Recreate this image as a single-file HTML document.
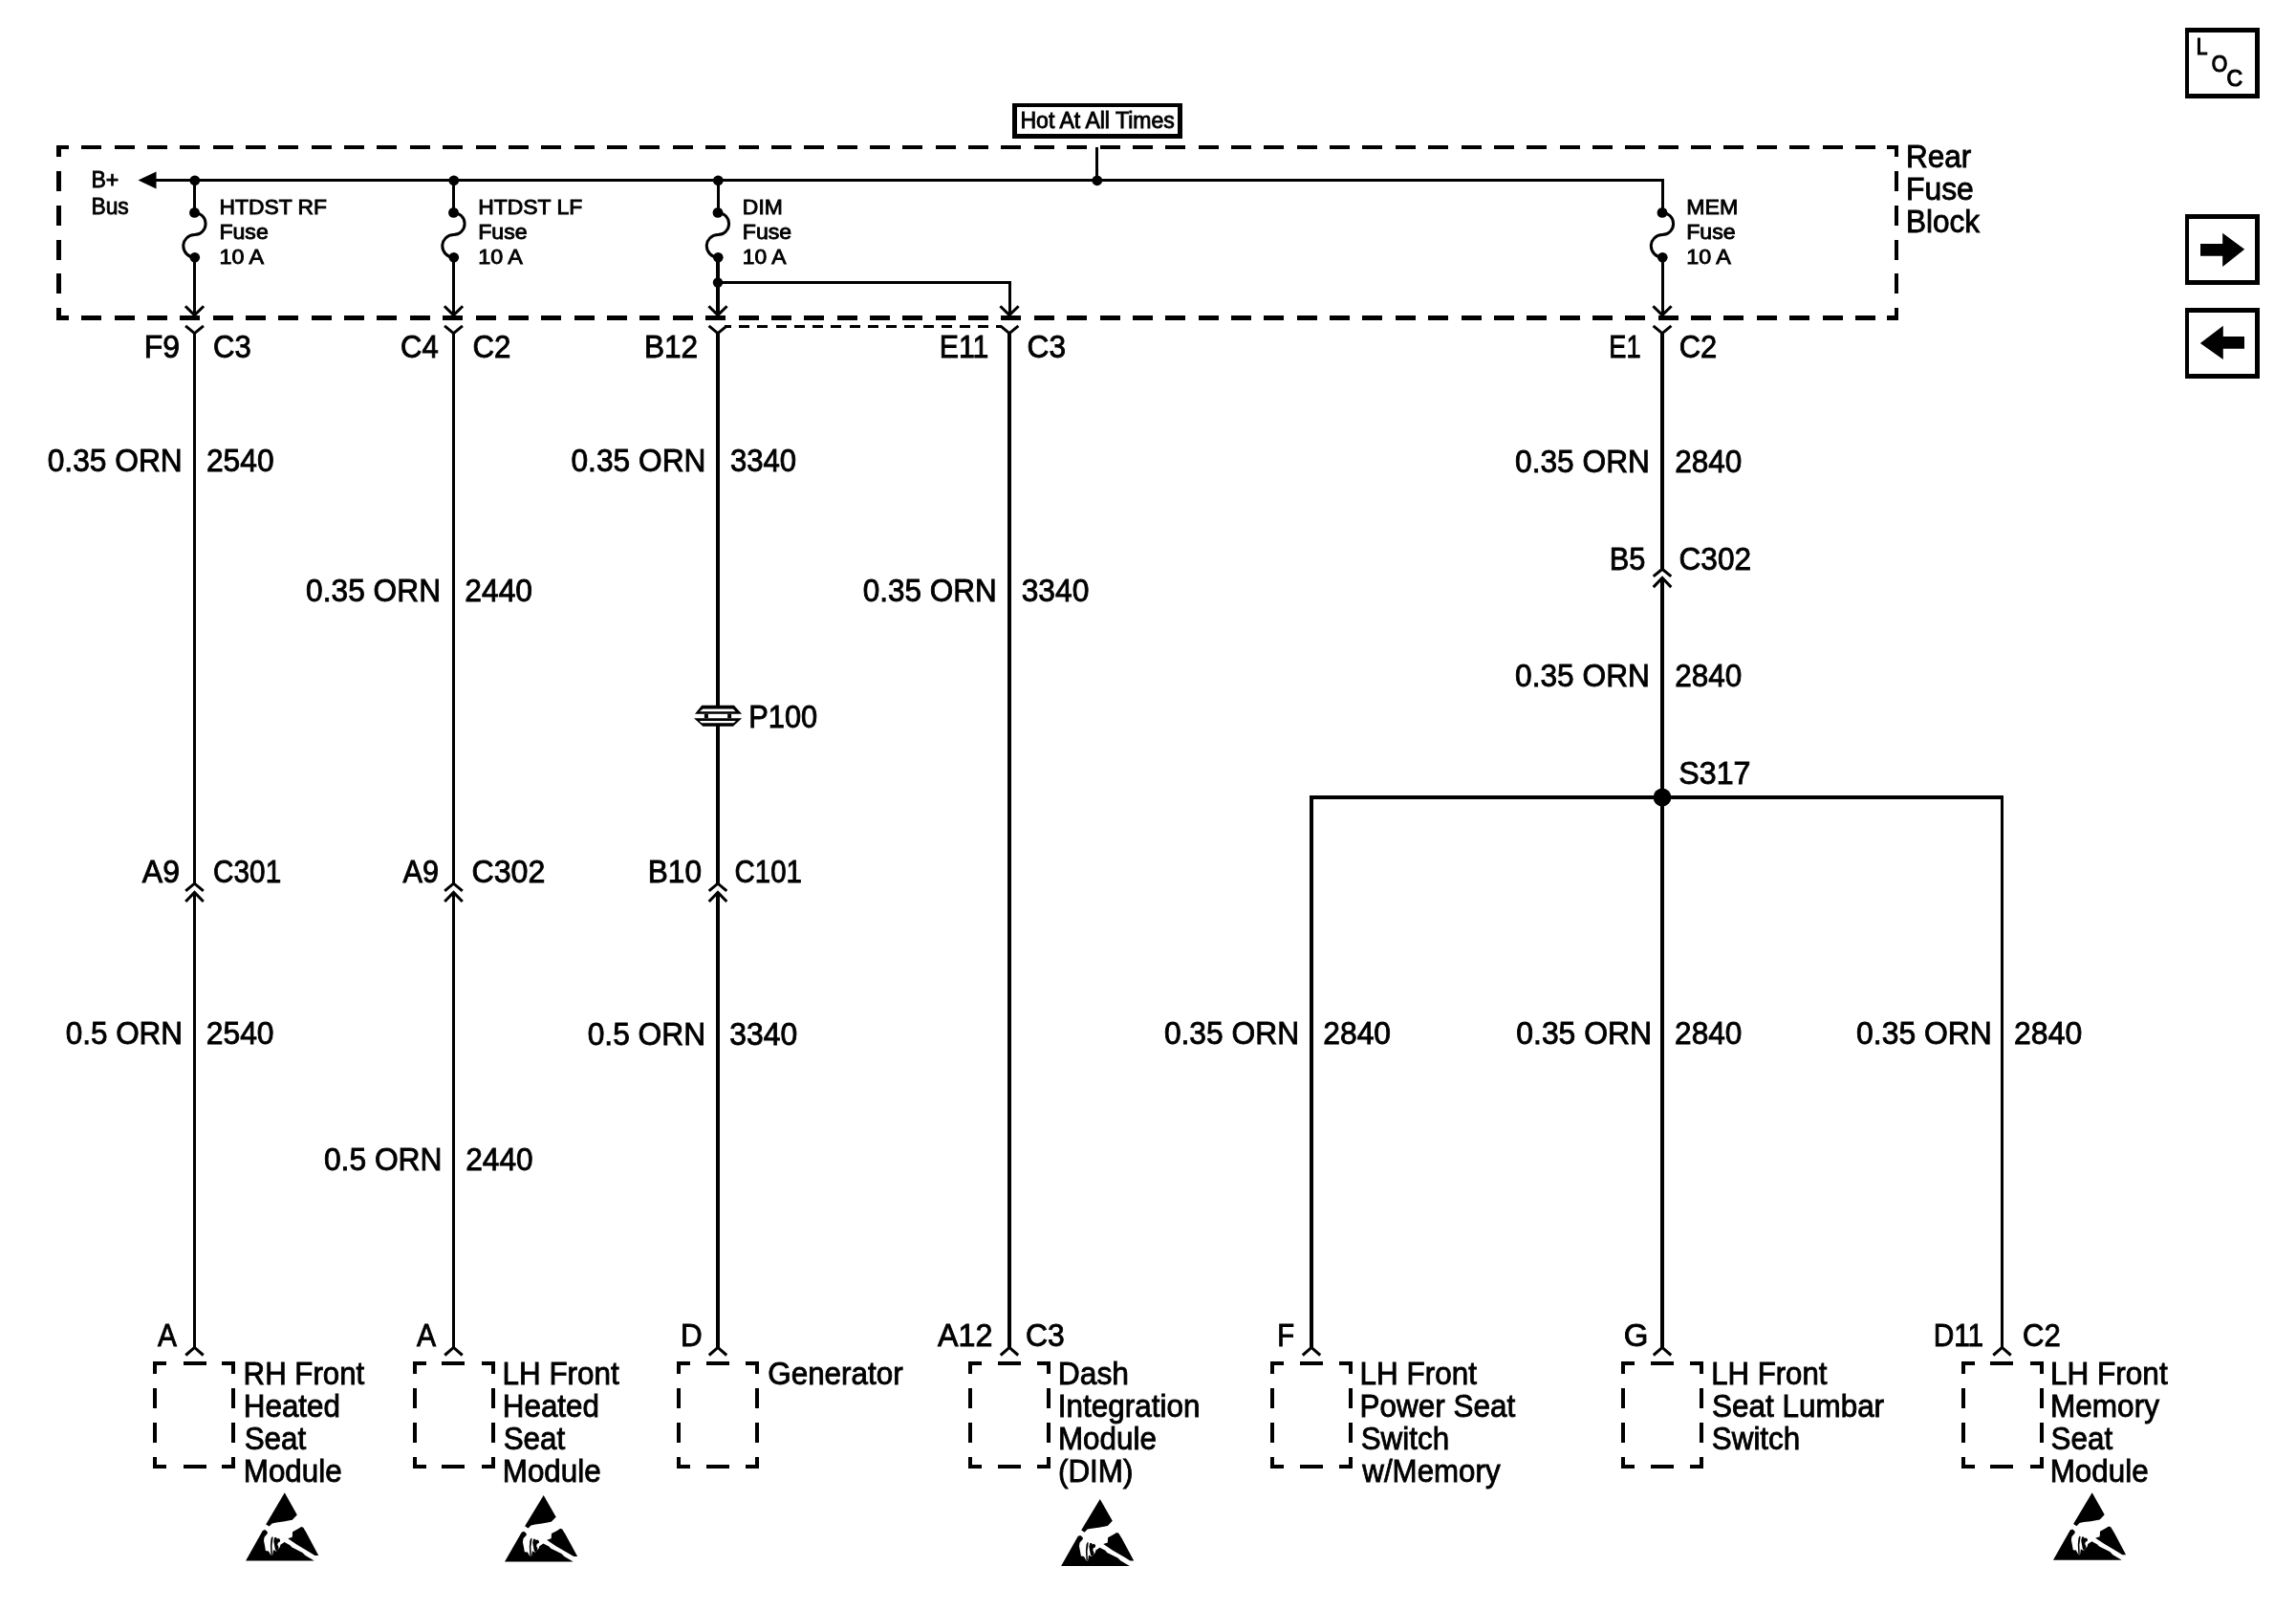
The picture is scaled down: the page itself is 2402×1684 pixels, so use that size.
<!DOCTYPE html>
<html><head><meta charset="utf-8"><style>
html,body{margin:0;padding:0;background:#fff;}
svg{display:block;filter:grayscale(1);}
text{font-family:"Liberation Sans",sans-serif;fill:#000;}
</style></head><body>
<svg width="2402" height="1684" viewBox="0 0 2402 1684">
<rect width="2402" height="1684" fill="#fff"/>
<g fill="#000" stroke="none" shape-rendering="crispEdges">
<rect x="59" y="152" width="13" height="4"/>
<rect x="85" y="152" width="21" height="4"/>
<rect x="120" y="152" width="21" height="4"/>
<rect x="154" y="152" width="21" height="4"/>
<rect x="188" y="152" width="21" height="4"/>
<rect x="223" y="152" width="21" height="4"/>
<rect x="257" y="152" width="21" height="4"/>
<rect x="291" y="152" width="21" height="4"/>
<rect x="326" y="152" width="21" height="4"/>
<rect x="360" y="152" width="21" height="4"/>
<rect x="394" y="152" width="21" height="4"/>
<rect x="429" y="152" width="21" height="4"/>
<rect x="463" y="152" width="21" height="4"/>
<rect x="498" y="152" width="21" height="4"/>
<rect x="532" y="152" width="21" height="4"/>
<rect x="566" y="152" width="21" height="4"/>
<rect x="601" y="152" width="21" height="4"/>
<rect x="635" y="152" width="21" height="4"/>
<rect x="669" y="152" width="21" height="4"/>
<rect x="704" y="152" width="21" height="4"/>
<rect x="738" y="152" width="21" height="4"/>
<rect x="773" y="152" width="21" height="4"/>
<rect x="807" y="152" width="21" height="4"/>
<rect x="841" y="152" width="21" height="4"/>
<rect x="876" y="152" width="21" height="4"/>
<rect x="910" y="152" width="21" height="4"/>
<rect x="944" y="152" width="21" height="4"/>
<rect x="979" y="152" width="21" height="4"/>
<rect x="1013" y="152" width="21" height="4"/>
<rect x="1047" y="152" width="21" height="4"/>
<rect x="1082" y="152" width="21" height="4"/>
<rect x="1116" y="152" width="21" height="4"/>
<rect x="1151" y="152" width="21" height="4"/>
<rect x="1185" y="152" width="21" height="4"/>
<rect x="1219" y="152" width="21" height="4"/>
<rect x="1254" y="152" width="21" height="4"/>
<rect x="1288" y="152" width="21" height="4"/>
<rect x="1322" y="152" width="21" height="4"/>
<rect x="1357" y="152" width="21" height="4"/>
<rect x="1391" y="152" width="21" height="4"/>
<rect x="1425" y="152" width="21" height="4"/>
<rect x="1460" y="152" width="21" height="4"/>
<rect x="1494" y="152" width="21" height="4"/>
<rect x="1529" y="152" width="21" height="4"/>
<rect x="1563" y="152" width="21" height="4"/>
<rect x="1597" y="152" width="21" height="4"/>
<rect x="1632" y="152" width="21" height="4"/>
<rect x="1666" y="152" width="21" height="4"/>
<rect x="1700" y="152" width="21" height="4"/>
<rect x="1735" y="152" width="21" height="4"/>
<rect x="1769" y="152" width="21" height="4"/>
<rect x="1803" y="152" width="21" height="4"/>
<rect x="1838" y="152" width="21" height="4"/>
<rect x="1872" y="152" width="21" height="4"/>
<rect x="1907" y="152" width="21" height="4"/>
<rect x="1941" y="152" width="21" height="4"/>
<rect x="1974" y="152" width="12" height="4"/>
<rect x="59" y="330" width="13" height="5"/>
<rect x="85" y="330" width="21" height="5"/>
<rect x="120" y="330" width="21" height="5"/>
<rect x="154" y="330" width="21" height="5"/>
<rect x="188" y="330" width="21" height="5"/>
<rect x="223" y="330" width="21" height="5"/>
<rect x="257" y="330" width="21" height="5"/>
<rect x="291" y="330" width="21" height="5"/>
<rect x="326" y="330" width="21" height="5"/>
<rect x="360" y="330" width="21" height="5"/>
<rect x="394" y="330" width="21" height="5"/>
<rect x="429" y="330" width="21" height="5"/>
<rect x="463" y="330" width="21" height="5"/>
<rect x="498" y="330" width="21" height="5"/>
<rect x="532" y="330" width="21" height="5"/>
<rect x="566" y="330" width="21" height="5"/>
<rect x="601" y="330" width="21" height="5"/>
<rect x="635" y="330" width="21" height="5"/>
<rect x="669" y="330" width="21" height="5"/>
<rect x="704" y="330" width="21" height="5"/>
<rect x="738" y="330" width="21" height="5"/>
<rect x="773" y="330" width="21" height="5"/>
<rect x="807" y="330" width="21" height="5"/>
<rect x="841" y="330" width="21" height="5"/>
<rect x="876" y="330" width="21" height="5"/>
<rect x="910" y="330" width="21" height="5"/>
<rect x="944" y="330" width="21" height="5"/>
<rect x="979" y="330" width="21" height="5"/>
<rect x="1013" y="330" width="21" height="5"/>
<rect x="1047" y="330" width="21" height="5"/>
<rect x="1082" y="330" width="21" height="5"/>
<rect x="1116" y="330" width="21" height="5"/>
<rect x="1151" y="330" width="21" height="5"/>
<rect x="1185" y="330" width="21" height="5"/>
<rect x="1219" y="330" width="21" height="5"/>
<rect x="1254" y="330" width="21" height="5"/>
<rect x="1288" y="330" width="21" height="5"/>
<rect x="1322" y="330" width="21" height="5"/>
<rect x="1357" y="330" width="21" height="5"/>
<rect x="1391" y="330" width="21" height="5"/>
<rect x="1425" y="330" width="21" height="5"/>
<rect x="1460" y="330" width="21" height="5"/>
<rect x="1494" y="330" width="21" height="5"/>
<rect x="1529" y="330" width="21" height="5"/>
<rect x="1563" y="330" width="21" height="5"/>
<rect x="1597" y="330" width="21" height="5"/>
<rect x="1632" y="330" width="21" height="5"/>
<rect x="1666" y="330" width="21" height="5"/>
<rect x="1700" y="330" width="21" height="5"/>
<rect x="1735" y="330" width="21" height="5"/>
<rect x="1769" y="330" width="21" height="5"/>
<rect x="1803" y="330" width="21" height="5"/>
<rect x="1838" y="330" width="21" height="5"/>
<rect x="1872" y="330" width="21" height="5"/>
<rect x="1907" y="330" width="21" height="5"/>
<rect x="1941" y="330" width="21" height="5"/>
<rect x="1974" y="330" width="12" height="5"/>
<rect x="59" y="152" width="5" height="12"/>
<rect x="59" y="179" width="5" height="21"/>
<rect x="59" y="215" width="5" height="21"/>
<rect x="59" y="251" width="5" height="21"/>
<rect x="59" y="286" width="5" height="21"/>
<rect x="59" y="322" width="5" height="13"/>
<rect x="1982" y="152" width="4" height="12"/>
<rect x="1982" y="179" width="4" height="21"/>
<rect x="1982" y="215" width="4" height="21"/>
<rect x="1982" y="251" width="4" height="21"/>
<rect x="1982" y="286" width="4" height="21"/>
<rect x="1982" y="322" width="4" height="13"/>
<rect x="160" y="187" width="1581" height="3"/>
<rect x="1146" y="154" width="3" height="35"/>
<rect x="1059" y="108" width="178" height="4"/>
<rect x="1059" y="140" width="178" height="5"/>
<rect x="1059" y="108" width="5" height="37"/>
<rect x="1232" y="108" width="5" height="37"/>
<rect x="202" y="188" width="3" height="34"/>
<rect x="202" y="269" width="3" height="60"/>
<rect x="473" y="188" width="3" height="34"/>
<rect x="473" y="269" width="3" height="60"/>
<rect x="749.5" y="188" width="3" height="34"/>
<rect x="749" y="269" width="4" height="60"/>
<rect x="1737.5" y="187" width="3" height="35"/>
<rect x="1737.5" y="188" width="3" height="34"/>
<rect x="1737.5" y="269" width="3" height="60"/>
<rect x="751" y="294" width="307" height="3"/>
<rect x="1054.5" y="294" width="3" height="35"/>
<rect x="773" y="340" width="11" height="3"/>
<rect x="792" y="340" width="11" height="3"/>
<rect x="812" y="340" width="11" height="3"/>
<rect x="831" y="340" width="11" height="3"/>
<rect x="850" y="340" width="11" height="3"/>
<rect x="869" y="340" width="11" height="3"/>
<rect x="889" y="340" width="11" height="3"/>
<rect x="908" y="340" width="11" height="3"/>
<rect x="927" y="340" width="11" height="3"/>
<rect x="946" y="340" width="11" height="3"/>
<rect x="966" y="340" width="11" height="3"/>
<rect x="985" y="340" width="11" height="3"/>
<rect x="1004" y="340" width="11" height="3"/>
<rect x="1023" y="340" width="11" height="3"/>
<rect x="758" y="340" width="7" height="3"/>
<rect x="1042" y="340" width="5" height="3"/>
<rect x="202" y="348" width="3" height="577"/>
<rect x="202" y="933" width="3" height="477"/>
<rect x="473" y="348" width="3" height="577"/>
<rect x="473" y="933" width="3" height="477"/>
<rect x="749" y="348" width="4" height="390"/>
<rect x="749" y="759" width="4" height="166"/>
<rect x="749" y="933" width="4" height="477"/>
<rect x="1054" y="348" width="4" height="1062"/>
<rect x="1737" y="348" width="4" height="248"/>
<rect x="1737" y="604" width="4" height="806"/>
<rect x="1370" y="832" width="726" height="4"/>
<rect x="1370" y="832" width="4" height="578"/>
<rect x="2093" y="832" width="3" height="578"/>
<rect x="160" y="1424" width="14" height="4"/>
<rect x="192" y="1424" width="24" height="4"/>
<rect x="232" y="1424" width="14" height="4"/>
<rect x="160" y="1532" width="14" height="4"/>
<rect x="192" y="1532" width="24" height="4"/>
<rect x="232" y="1532" width="14" height="4"/>
<rect x="160" y="1424" width="4" height="13"/>
<rect x="160" y="1452" width="4" height="21"/>
<rect x="160" y="1488" width="4" height="21"/>
<rect x="160" y="1524" width="4" height="12"/>
<rect x="242" y="1424" width="4" height="13"/>
<rect x="242" y="1452" width="4" height="21"/>
<rect x="242" y="1488" width="4" height="21"/>
<rect x="242" y="1524" width="4" height="12"/>
<rect x="432" y="1424" width="14" height="4"/>
<rect x="462" y="1424" width="24" height="4"/>
<rect x="504" y="1424" width="14" height="4"/>
<rect x="432" y="1532" width="14" height="4"/>
<rect x="462" y="1532" width="24" height="4"/>
<rect x="504" y="1532" width="14" height="4"/>
<rect x="432" y="1424" width="4" height="13"/>
<rect x="432" y="1452" width="4" height="21"/>
<rect x="432" y="1488" width="4" height="21"/>
<rect x="432" y="1524" width="4" height="12"/>
<rect x="514" y="1424" width="4" height="13"/>
<rect x="514" y="1452" width="4" height="21"/>
<rect x="514" y="1488" width="4" height="21"/>
<rect x="514" y="1524" width="4" height="12"/>
<rect x="708" y="1424" width="14" height="4"/>
<rect x="739" y="1424" width="24" height="4"/>
<rect x="780" y="1424" width="14" height="4"/>
<rect x="708" y="1532" width="14" height="4"/>
<rect x="739" y="1532" width="24" height="4"/>
<rect x="780" y="1532" width="14" height="4"/>
<rect x="708" y="1424" width="4" height="13"/>
<rect x="708" y="1452" width="4" height="21"/>
<rect x="708" y="1488" width="4" height="21"/>
<rect x="708" y="1524" width="4" height="12"/>
<rect x="790" y="1424" width="4" height="13"/>
<rect x="790" y="1452" width="4" height="21"/>
<rect x="790" y="1488" width="4" height="21"/>
<rect x="790" y="1524" width="4" height="12"/>
<rect x="1013" y="1424" width="14" height="4"/>
<rect x="1044" y="1424" width="24" height="4"/>
<rect x="1085" y="1424" width="14" height="4"/>
<rect x="1013" y="1532" width="14" height="4"/>
<rect x="1044" y="1532" width="24" height="4"/>
<rect x="1085" y="1532" width="14" height="4"/>
<rect x="1013" y="1424" width="4" height="13"/>
<rect x="1013" y="1452" width="4" height="21"/>
<rect x="1013" y="1488" width="4" height="21"/>
<rect x="1013" y="1524" width="4" height="12"/>
<rect x="1095" y="1424" width="4" height="13"/>
<rect x="1095" y="1452" width="4" height="21"/>
<rect x="1095" y="1488" width="4" height="21"/>
<rect x="1095" y="1524" width="4" height="12"/>
<rect x="1329" y="1424" width="14" height="4"/>
<rect x="1360" y="1424" width="24" height="4"/>
<rect x="1401" y="1424" width="14" height="4"/>
<rect x="1329" y="1532" width="14" height="4"/>
<rect x="1360" y="1532" width="24" height="4"/>
<rect x="1401" y="1532" width="14" height="4"/>
<rect x="1329" y="1424" width="4" height="13"/>
<rect x="1329" y="1452" width="4" height="21"/>
<rect x="1329" y="1488" width="4" height="21"/>
<rect x="1329" y="1524" width="4" height="12"/>
<rect x="1411" y="1424" width="4" height="13"/>
<rect x="1411" y="1452" width="4" height="21"/>
<rect x="1411" y="1488" width="4" height="21"/>
<rect x="1411" y="1524" width="4" height="12"/>
<rect x="1696" y="1424" width="14" height="4"/>
<rect x="1727" y="1424" width="24" height="4"/>
<rect x="1768" y="1424" width="14" height="4"/>
<rect x="1696" y="1532" width="14" height="4"/>
<rect x="1727" y="1532" width="24" height="4"/>
<rect x="1768" y="1532" width="14" height="4"/>
<rect x="1696" y="1424" width="4" height="13"/>
<rect x="1696" y="1452" width="4" height="21"/>
<rect x="1696" y="1488" width="4" height="21"/>
<rect x="1696" y="1524" width="4" height="12"/>
<rect x="1778" y="1424" width="4" height="13"/>
<rect x="1778" y="1452" width="4" height="21"/>
<rect x="1778" y="1488" width="4" height="21"/>
<rect x="1778" y="1524" width="4" height="12"/>
<rect x="2052" y="1424" width="14" height="4"/>
<rect x="2082" y="1424" width="24" height="4"/>
<rect x="2124" y="1424" width="14" height="4"/>
<rect x="2052" y="1532" width="14" height="4"/>
<rect x="2082" y="1532" width="24" height="4"/>
<rect x="2124" y="1532" width="14" height="4"/>
<rect x="2052" y="1424" width="4" height="13"/>
<rect x="2052" y="1452" width="4" height="21"/>
<rect x="2052" y="1488" width="4" height="21"/>
<rect x="2052" y="1524" width="4" height="12"/>
<rect x="2134" y="1424" width="4" height="13"/>
<rect x="2134" y="1452" width="4" height="21"/>
<rect x="2134" y="1488" width="4" height="21"/>
<rect x="2134" y="1524" width="4" height="12"/>
<rect x="2286" y="29" width="78" height="5"/>
<rect x="2286" y="98" width="78" height="5"/>
<rect x="2286" y="29" width="4" height="74"/>
<rect x="2359" y="29" width="5" height="74"/>
<rect x="2286" y="224" width="78" height="5"/>
<rect x="2286" y="293" width="78" height="5"/>
<rect x="2286" y="224" width="4" height="74"/>
<rect x="2359" y="224" width="5" height="74"/>
<rect x="2286" y="322" width="78" height="5"/>
<rect x="2286" y="391" width="78" height="5"/>
<rect x="2286" y="322" width="4" height="74"/>
<rect x="2359" y="322" width="5" height="74"/>
</g>
<g fill="#000" stroke="none">
<polygon points="144.5,188.5 163.5,179.5 163.5,197.5"/>
<circle cx="203.80" cy="188.80" r="5.4"/>
<circle cx="474.80" cy="188.80" r="5.4"/>
<circle cx="751.30" cy="188.80" r="5.4"/>
<circle cx="1147.80" cy="188.80" r="5.4"/>
<circle cx="203.50" cy="222.40" r="5.4"/>
<circle cx="203.80" cy="269.20" r="5.3"/>
<circle cx="474.50" cy="222.40" r="5.4"/>
<circle cx="474.80" cy="269.20" r="5.3"/>
<circle cx="751.00" cy="222.40" r="5.4"/>
<circle cx="751.30" cy="269.20" r="5.3"/>
<circle cx="1739.00" cy="222.40" r="5.4"/>
<circle cx="1739.30" cy="269.20" r="5.3"/>
<circle cx="751.00" cy="295.50" r="5.2"/>
<circle cx="1739.00" cy="834.00" r="9.4"/>
<path d="M734.2,737.8 H767.9 L776.1,746.8 H727.0 Z M735.5,741.6 L731.8,744.2 H769.6 L766.9,741.6 Z" fill-rule="evenodd"/>
<rect x="736.9" y="746.8" width="4.0" height="4.4"/><rect x="761.2" y="746.8" width="3.9" height="4.4"/>
<path d="M726.0,751.2 H776.1 L767.0,759.8 H735.4 Z M731.6,753.9 L734.0,756.3 H767.6 L769.9,753.9 Z" fill-rule="evenodd"/>
<defs><g id="esd">
<polygon points="40.7,0 53.7,23.3 48.7,28.6 39.4,30.4 32,31.3 27.6,32.3 24.5,35.4 21.1,33.2"/>
<polygon points="0,71.4 17.7,39.7 20.2,38.8 22.7,41 22.7,42.8 19.5,46.6 18.9,50.3 20.2,57.1 20.8,60.8 23.9,61.2 26.4,65.8 28.0,65.8 28.9,59.8 32,61.5 35.7,57.1 36.3,54.6 40.4,51.8 46.3,55 48.1,57.1 59.3,62.7 62.4,65.8 71.7,71.4"/>
<polygon points="44.1,48.1 48.7,46.6 49,41 54.9,37.9 58.1,35.7 60.2,36.6 63.6,42.2 76.1,65.8 72.3,65.8 66.7,62.4 53.7,54.6"/>
<polygon points="27.6,46 26.4,48.4 25.8,55.3 26.4,65.8 27.8,65.8 27.4,55.3 28.6,46.6"/>
<polygon points="30.1,46.9 32,46.9 32.6,48.4 34.5,47.8 36,49.4 35.7,51.5 33.8,52.2 33.2,54.6 34.5,57.1 33.8,59.6 32,61.5 30.7,59 29.2,50.9"/>
</g></defs>
<use href="#esd" transform="translate(257.1,1561.2) scale(1,1.0)"/>
<use href="#esd" transform="translate(528.0,1564.0) scale(1,0.973)"/>
<use href="#esd" transform="translate(1110.1,1568.0) scale(1,0.979)"/>
<use href="#esd" transform="translate(2148.0,1561.2) scale(1,0.987)"/>
<polygon points="2302,255 2325.2,255 2325.2,243.8 2348.2,260.8 2325.2,279 2325.2,267.8 2302,267.8"/>
<polygon points="2301.8,358.9 2325.8,340.7 2325.8,351.9 2348,351.9 2348,364.7 2325.8,364.7 2325.8,375.9"/>
</g>
<g stroke="#000" stroke-linecap="butt" stroke-linejoin="miter" fill="none">
<path d="M203.50,222.4 A11.6,11.6 0 0 1 203.50,245.6 A11.6,11.6 0 0 0 203.50,269.0" fill="none" stroke-width="3"/>
<polyline points="193.90,320.20 203.50,329.60 213.10,320.20" stroke-width="3.0" fill="none"/>
<path d="M474.50,222.4 A11.6,11.6 0 0 1 474.50,245.6 A11.6,11.6 0 0 0 474.50,269.0" fill="none" stroke-width="3"/>
<polyline points="464.90,320.20 474.50,329.60 484.10,320.20" stroke-width="3.0" fill="none"/>
<path d="M751.00,222.4 A11.6,11.6 0 0 1 751.00,245.6 A11.6,11.6 0 0 0 751.00,269.0" fill="none" stroke-width="3"/>
<polyline points="741.40,320.20 751.00,329.60 760.60,320.20" stroke-width="3.0" fill="none"/>
<path d="M1739.00,222.4 A11.6,11.6 0 0 1 1739.00,245.6 A11.6,11.6 0 0 0 1739.00,269.0" fill="none" stroke-width="3"/>
<polyline points="1729.40,320.20 1739.00,329.60 1748.60,320.20" stroke-width="3.0" fill="none"/>
<polyline points="1046.40,320.20 1056.00,329.60 1065.60,320.20" stroke-width="3.0" fill="none"/>
<polyline points="194.10,340.80 203.50,348.60 212.90,340.80" stroke-width="3.0" fill="none"/>
<polyline points="465.10,340.80 474.50,348.60 483.90,340.80" stroke-width="3.0" fill="none"/>
<polyline points="741.60,340.80 751.00,348.60 760.40,340.80" stroke-width="3.0" fill="none"/>
<polyline points="1046.60,340.80 1056.00,348.60 1065.40,340.80" stroke-width="3.0" fill="none"/>
<polyline points="1729.60,340.80 1739.00,348.60 1748.40,340.80" stroke-width="3.0" fill="none"/>
<polyline points="194.20,931.80 203.50,924.20 212.80,931.80" stroke-width="3.0" fill="none"/>
<polyline points="194.20,943.00 203.50,933.40 212.80,943.00" stroke-width="3.0" fill="none"/>
<polyline points="194.30,1417.50 203.50,1409.40 212.70,1417.50" stroke-width="3.0" fill="none"/>
<polyline points="465.20,931.80 474.50,924.20 483.80,931.80" stroke-width="3.0" fill="none"/>
<polyline points="465.20,943.00 474.50,933.40 483.80,943.00" stroke-width="3.0" fill="none"/>
<polyline points="465.30,1417.50 474.50,1409.40 483.70,1417.50" stroke-width="3.0" fill="none"/>
<polyline points="741.70,931.80 751.00,924.20 760.30,931.80" stroke-width="3.0" fill="none"/>
<polyline points="741.70,943.00 751.00,933.40 760.30,943.00" stroke-width="3.0" fill="none"/>
<polyline points="741.80,1417.50 751.00,1409.40 760.20,1417.50" stroke-width="3.0" fill="none"/>
<polyline points="1046.80,1417.50 1056.00,1409.40 1065.20,1417.50" stroke-width="3.0" fill="none"/>
<polyline points="1729.70,602.90 1739.00,595.30 1748.30,602.90" stroke-width="3.0" fill="none"/>
<polyline points="1729.70,614.10 1739.00,604.50 1748.30,614.10" stroke-width="3.0" fill="none"/>
<polyline points="1729.80,1417.50 1739.00,1409.40 1748.20,1417.50" stroke-width="3.0" fill="none"/>
<polyline points="1362.80,1417.50 1372.00,1409.40 1381.20,1417.50" stroke-width="3.0" fill="none"/>
<polyline points="2085.30,1417.50 2094.50,1409.40 2103.70,1417.50" stroke-width="3.0" fill="none"/>
</g>
<g>
<text transform="translate(150.74,374.35) scale(0.9447,1)" font-size="33.9" stroke="#000" stroke-width="0.9">F9</text>
<text transform="translate(223.10,374.35) scale(0.9171,1)" font-size="33.9" stroke="#000" stroke-width="0.9">C3</text>
<text transform="translate(419.10,374.35) scale(0.9164,1)" font-size="33.9" stroke="#000" stroke-width="0.9">C4</text>
<text transform="translate(494.49,374.35) scale(0.9222,1)" font-size="33.9" stroke="#000" stroke-width="0.9">C2</text>
<text transform="translate(673.95,374.35) scale(0.9329,1)" font-size="33.9" stroke="#000" stroke-width="0.9">B12</text>
<text transform="translate(982.82,374.35) scale(0.8934,1)" font-size="33.9" stroke="#000" stroke-width="0.9">E11</text>
<text transform="translate(1074.49,374.35) scale(0.9356,1)" font-size="33.9" stroke="#000" stroke-width="0.9">C3</text>
<text transform="translate(1683.36,374.35) scale(0.8018,1)" font-size="33.9" stroke="#000" stroke-width="0.9">E1</text>
<text transform="translate(1756.70,374.35) scale(0.9121,1)" font-size="33.9" stroke="#000" stroke-width="0.9">C2</text>
<text transform="translate(49.69,492.65) scale(0.9359,1)" font-size="33.9" stroke="#000" stroke-width="0.9">0.35 ORN</text>
<text transform="translate(215.88,492.65) scale(0.9381,1)" font-size="33.9" stroke="#000" stroke-width="0.9">2540</text>
<text transform="translate(597.49,492.65) scale(0.9358,1)" font-size="33.9" stroke="#000" stroke-width="0.9">0.35 ORN</text>
<text transform="translate(763.89,492.65) scale(0.9189,1)" font-size="33.9" stroke="#000" stroke-width="0.9">3340</text>
<text transform="translate(1585.09,493.65) scale(0.9344,1)" font-size="33.9" stroke="#000" stroke-width="0.9">0.35 ORN</text>
<text transform="translate(1752.29,493.65) scale(0.9299,1)" font-size="33.9" stroke="#000" stroke-width="0.9">2840</text>
<text transform="translate(320.09,629.05) scale(0.9358,1)" font-size="33.9" stroke="#000" stroke-width="0.9">0.35 ORN</text>
<text transform="translate(486.28,629.05) scale(0.9381,1)" font-size="33.9" stroke="#000" stroke-width="0.9">2440</text>
<text transform="translate(902.69,629.05) scale(0.9291,1)" font-size="33.9" stroke="#000" stroke-width="0.9">0.35 ORN</text>
<text transform="translate(1068.68,629.05) scale(0.9381,1)" font-size="33.9" stroke="#000" stroke-width="0.9">3340</text>
<text transform="translate(1683.79,595.65) scale(0.9088,1)" font-size="33.9" stroke="#000" stroke-width="0.9">B5</text>
<text transform="translate(1756.49,595.65) scale(0.9323,1)" font-size="33.9" stroke="#000" stroke-width="0.9">C302</text>
<text transform="translate(1585.09,718.35) scale(0.9344,1)" font-size="33.9" stroke="#000" stroke-width="0.9">0.35 ORN</text>
<text transform="translate(1752.29,718.35) scale(0.9299,1)" font-size="33.9" stroke="#000" stroke-width="0.9">2840</text>
<text transform="translate(783.19,760.75) scale(0.9096,1)" font-size="33.9" stroke="#000" stroke-width="0.9">P100</text>
<text transform="translate(1756.28,820.25) scale(0.9493,1)" font-size="33.9" stroke="#000" stroke-width="0.9">S317</text>
<text transform="translate(148.83,923.45) scale(0.9455,1)" font-size="33.9" stroke="#000" stroke-width="0.9">A9</text>
<text transform="translate(223.12,923.45) scale(0.8770,1)" font-size="33.9" stroke="#000" stroke-width="0.9">C301</text>
<text transform="translate(421.61,923.45) scale(0.9067,1)" font-size="33.9" stroke="#000" stroke-width="0.9">A9</text>
<text transform="translate(493.48,923.45) scale(0.9498,1)" font-size="33.9" stroke="#000" stroke-width="0.9">C302</text>
<text transform="translate(677.75,923.45) scale(0.9332,1)" font-size="33.9" stroke="#000" stroke-width="0.9">B10</text>
<text transform="translate(768.52,923.45) scale(0.8698,1)" font-size="33.9" stroke="#000" stroke-width="0.9">C101</text>
<text transform="translate(68.69,1091.75) scale(0.9284,1)" font-size="33.9" stroke="#000" stroke-width="0.9">0.5 ORN</text>
<text transform="translate(215.68,1091.75) scale(0.9405,1)" font-size="33.9" stroke="#000" stroke-width="0.9">2540</text>
<text transform="translate(614.69,1092.75) scale(0.9362,1)" font-size="33.9" stroke="#000" stroke-width="0.9">0.5 ORN</text>
<text transform="translate(763.28,1092.75) scale(0.9405,1)" font-size="33.9" stroke="#000" stroke-width="0.9">3340</text>
<text transform="translate(1217.88,1091.75) scale(0.9371,1)" font-size="33.9" stroke="#000" stroke-width="0.9">0.35 ORN</text>
<text transform="translate(1384.28,1091.75) scale(0.9379,1)" font-size="33.9" stroke="#000" stroke-width="0.9">2840</text>
<text transform="translate(1586.28,1091.75) scale(0.9412,1)" font-size="33.9" stroke="#000" stroke-width="0.9">0.35 ORN</text>
<text transform="translate(1752.09,1091.75) scale(0.9323,1)" font-size="33.9" stroke="#000" stroke-width="0.9">2840</text>
<text transform="translate(1942.08,1091.75) scale(0.9412,1)" font-size="33.9" stroke="#000" stroke-width="0.9">0.35 ORN</text>
<text transform="translate(2107.08,1091.75) scale(0.9433,1)" font-size="33.9" stroke="#000" stroke-width="0.9">2840</text>
<text transform="translate(338.88,1223.95) scale(0.9377,1)" font-size="33.9" stroke="#000" stroke-width="0.9">0.5 ORN</text>
<text transform="translate(487.29,1223.95) scale(0.9324,1)" font-size="33.9" stroke="#000" stroke-width="0.9">2440</text>
<text transform="translate(165.00,1407.55) scale(0.8809,1)" font-size="33.9" stroke="#000" stroke-width="0.9">A</text>
<text transform="translate(436.00,1407.55) scale(0.8886,1)" font-size="33.9" stroke="#000" stroke-width="0.9">A</text>
<text transform="translate(711.96,1407.55) scale(0.9264,1)" font-size="33.9" stroke="#000" stroke-width="0.9">D</text>
<text transform="translate(981.03,1407.55) scale(0.9517,1)" font-size="33.9" stroke="#000" stroke-width="0.9">A12</text>
<text transform="translate(1072.88,1407.55) scale(0.9413,1)" font-size="33.9" stroke="#000" stroke-width="0.9">C3</text>
<text transform="translate(1336.26,1407.55) scale(0.8636,1)" font-size="33.9" stroke="#000" stroke-width="0.9">F</text>
<text transform="translate(1698.86,1407.55) scale(0.9739,1)" font-size="33.9" stroke="#000" stroke-width="0.9">G</text>
<text transform="translate(2022.63,1407.55) scale(0.8812,1)" font-size="33.9" stroke="#000" stroke-width="0.9">D11</text>
<text transform="translate(2116.10,1407.55) scale(0.9172,1)" font-size="33.9" stroke="#000" stroke-width="0.9">C2</text>
<text transform="translate(254.57,1447.65) scale(0.9217,1)" font-size="33.9" stroke="#000" stroke-width="0.9">RH Front</text>
<text transform="translate(254.76,1481.65) scale(0.9263,1)" font-size="33.9" stroke="#000" stroke-width="0.9">Heated</text>
<text transform="translate(255.69,1515.65) scale(0.9263,1)" font-size="33.9" stroke="#000" stroke-width="0.9">Seat</text>
<text transform="translate(254.76,1549.65) scale(0.9263,1)" font-size="33.9" stroke="#000" stroke-width="0.9">Module</text>
<text transform="translate(525.56,1447.65) scale(0.9262,1)" font-size="33.9" stroke="#000" stroke-width="0.9">LH Front</text>
<text transform="translate(525.76,1481.65) scale(0.9263,1)" font-size="33.9" stroke="#000" stroke-width="0.9">Heated</text>
<text transform="translate(526.69,1515.65) scale(0.9263,1)" font-size="33.9" stroke="#000" stroke-width="0.9">Seat</text>
<text transform="translate(525.76,1549.65) scale(0.9263,1)" font-size="33.9" stroke="#000" stroke-width="0.9">Module</text>
<text transform="translate(803.29,1447.65) scale(0.9264,1)" font-size="33.9" stroke="#000" stroke-width="0.9">Generator</text>
<text transform="translate(1106.75,1447.65) scale(0.9378,1)" font-size="33.9" stroke="#000" stroke-width="0.9">Dash</text>
<text transform="translate(1106.83,1481.65) scale(0.9283,1)" font-size="33.9" stroke="#000" stroke-width="0.9">Integration</text>
<text transform="translate(1106.96,1515.65) scale(0.9263,1)" font-size="33.9" stroke="#000" stroke-width="0.9">Module</text>
<text transform="translate(1106.96,1549.65) scale(0.9263,1)" font-size="33.9" stroke="#000" stroke-width="0.9">(DIM)</text>
<text transform="translate(1422.56,1447.65) scale(0.9277,1)" font-size="33.9" stroke="#000" stroke-width="0.9">LH Front</text>
<text transform="translate(1422.56,1481.65) scale(0.9287,1)" font-size="33.9" stroke="#000" stroke-width="0.9">Power Seat</text>
<text transform="translate(1423.69,1515.65) scale(0.9263,1)" font-size="33.9" stroke="#000" stroke-width="0.9">Switch</text>
<text transform="translate(1425.34,1549.65) scale(0.9227,1)" font-size="33.9" stroke="#000" stroke-width="0.9">w/Memory</text>
<text transform="translate(1790.17,1447.65) scale(0.9200,1)" font-size="33.9" stroke="#000" stroke-width="0.9">LH Front</text>
<text transform="translate(1791.09,1481.65) scale(0.9275,1)" font-size="33.9" stroke="#000" stroke-width="0.9">Seat Lumbar</text>
<text transform="translate(1790.79,1515.65) scale(0.9263,1)" font-size="33.9" stroke="#000" stroke-width="0.9">Switch</text>
<text transform="translate(2144.96,1447.65) scale(0.9307,1)" font-size="33.9" stroke="#000" stroke-width="0.9">LH Front</text>
<text transform="translate(2144.96,1481.65) scale(0.9314,1)" font-size="33.9" stroke="#000" stroke-width="0.9">Memory</text>
<text transform="translate(2145.59,1515.65) scale(0.9263,1)" font-size="33.9" stroke="#000" stroke-width="0.9">Seat</text>
<text transform="translate(2144.66,1549.65) scale(0.9263,1)" font-size="33.9" stroke="#000" stroke-width="0.9">Module</text>
<text transform="translate(1993.96,175.45) scale(0.9301,1)" font-size="33.9" stroke="#000" stroke-width="0.9">Rear</text>
<text transform="translate(1993.94,209.35) scale(0.9407,1)" font-size="33.9" stroke="#000" stroke-width="0.9">Fuse</text>
<text transform="translate(1993.96,243.45) scale(0.9315,1)" font-size="33.9" stroke="#000" stroke-width="0.9">Block</text>
<text transform="translate(229.44,223.65) scale(1.0113,1)" font-size="22.6" stroke="#000" stroke-width="0.9">HTDST RF</text>
<text transform="translate(229.44,249.55) scale(1.0217,1)" font-size="22.6" stroke="#000" stroke-width="0.9">Fuse</text>
<text transform="translate(229.43,275.65) scale(1.0328,1)" font-size="22.6" stroke="#000" stroke-width="0.9">10 A</text>
<text transform="translate(500.24,223.65) scale(1.0148,1)" font-size="22.6" stroke="#000" stroke-width="0.9">HTDST LF</text>
<text transform="translate(500.24,249.55) scale(1.0225,1)" font-size="22.6" stroke="#000" stroke-width="0.9">Fuse</text>
<text transform="translate(500.23,275.65) scale(1.0317,1)" font-size="22.6" stroke="#000" stroke-width="0.9">10 A</text>
<text transform="translate(776.84,223.65) scale(1.0146,1)" font-size="22.6" stroke="#000" stroke-width="0.9">DIM</text>
<text transform="translate(776.84,249.55) scale(1.0217,1)" font-size="22.6" stroke="#000" stroke-width="0.9">Fuse</text>
<text transform="translate(776.84,275.65) scale(1.0104,1)" font-size="22.6" stroke="#000" stroke-width="0.9">10 A</text>
<text transform="translate(1764.24,223.65) scale(1.0253,1)" font-size="22.6" stroke="#000" stroke-width="0.9">MEM</text>
<text transform="translate(1764.24,249.55) scale(1.0225,1)" font-size="22.6" stroke="#000" stroke-width="0.9">Fuse</text>
<text transform="translate(1764.23,275.65) scale(1.0317,1)" font-size="22.6" stroke="#000" stroke-width="0.9">10 A</text>
<text transform="translate(95.48,195.65) scale(0.9531,1)" font-size="24.2" stroke="#000" stroke-width="0.9">B+</text>
<text transform="translate(95.48,223.55) scale(0.9429,1)" font-size="24.2" stroke="#000" stroke-width="0.9">Bus</text>
<text transform="translate(1067.48,133.75) scale(0.9527,1)" font-size="24.2" stroke="#000" stroke-width="0.9">Hot At All Times</text>
<text transform="translate(2297.64,56.65) scale(0.9091,1)" font-size="23.1" stroke="#000" stroke-width="1.2">L</text>
<text transform="translate(2313.73,75.35) scale(0.9186,1)" font-size="23.1" stroke="#000" stroke-width="1.2">O</text>
<text transform="translate(2329.50,90.45) scale(0.9938,1)" font-size="23.1" stroke="#000" stroke-width="1.2">C</text>
</g>
</svg>
</body></html>
